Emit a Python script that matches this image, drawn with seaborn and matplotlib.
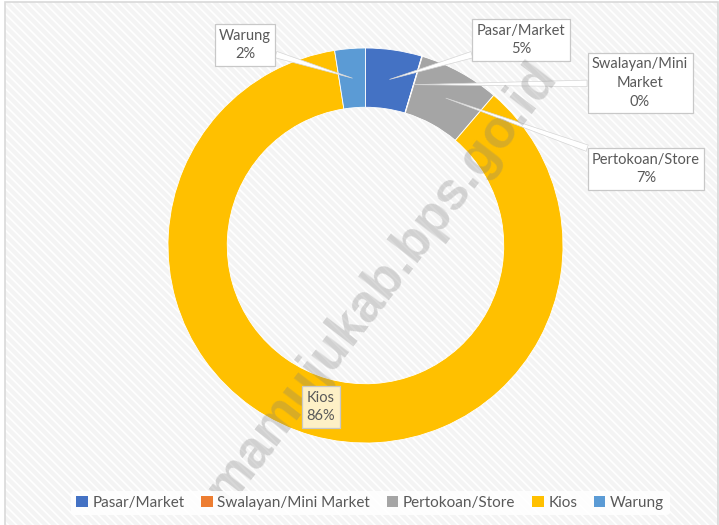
import matplotlib
matplotlib.use('Agg')
import matplotlib.pyplot as plt
from matplotlib.patches import Rectangle, Patch
import seaborn as sns
import numpy as np

# shares of outlets (percent)
categories = ['Pasar/Market', 'Swalayan/Mini Market', 'Pertokoan/Store', 'Kios', 'Warung']
shares = [4.6, 0.05, 6.6, 86.25, 2.5]
pct_labels = ['5%', '0%', '7%', '86%', '2%']
box_texts = ['Pasar/Market', 'Swalayan/Mini\nMarket', 'Pertokoan/Store', 'Kios', 'Warung']
colors = ['#4472C4', '#ED7D31', '#A5A5A5', '#FFC000', '#5B9BD5']

sns.set_style('white')
plt.rcParams['font.family'] = ['Lato', 'DejaVu Sans']
plt.rcParams['hatch.linewidth'] = 1.2

W, H = 719, 525
fig = plt.figure(figsize=(W / 100, H / 100), dpi=100)
fig.patch.set_facecolor('white')

# hatched chart-area background like the excel style
bg = Rectangle((5 / W, 0), (W - 6) / W, 1 - 2 / H, transform=fig.transFigure,
               facecolor='#f4f4f4', edgecolor='white', hatch='\\\\\\\\', lw=0, zorder=-10)
fig.patches.append(bg)
frame = Rectangle((5 / W, -0.01), (W - 6) / W, 1 - 2 / H + 0.01, transform=fig.transFigure,
                  facecolor='none', edgecolor='#d9d9d9', lw=1.2, zorder=-9)
fig.patches.append(frame)

# donut axes positioned in pixels
cx, cy, R = 365.5, 245.5, 197.5
ax = fig.add_axes([(cx - R) / W, 1 - (cy + R) / H, 2 * R / W, 2 * R / H])
ax.patch.set_alpha(0)

ring = 0.30
wedges, _ = ax.pie(shares, colors=colors, startangle=90, counterclock=False, radius=1,
                   wedgeprops=dict(width=ring, edgecolor='white', linewidth=0.6))
ax.set_xlim(-1, 1)
ax.set_ylim(-1, 1)
ax.axis('off')

# watermark
fig.text(0.53, 1 - 283 / H, 'mamujukab.bps.go.id', rotation=52.5, fontsize=38, fontweight='bold',
         color='#7f7f7f', alpha=0.3, ha='center', va='center', family='Liberation Sans', zorder=2)

# label boxes (centre positions in pixels from top-left)
box_pos = [(521, 40), (640, 83), (646, 169), (321, 407), (245, 45)]
txt_col = '#595959'
for i, w in enumerate(wedges):
    mid = np.deg2rad((w.theta1 + w.theta2) / 2)
    rm = 1 - ring / 2
    px, py = rm * np.cos(mid), rm * np.sin(mid)
    bx, by = box_pos[i]
    label = box_texts[i] + '\n' + pct_labels[i]
    face = '#fdf0c6' if categories[i] == 'Kios' else 'white'
    if categories[i] == 'Kios':
        fig.text(bx / W, 1 - by / H, label, ha='center', va='center', fontsize=10.5,
                 color=txt_col, linespacing=1.45, zorder=5,
                 bbox=dict(boxstyle='square,pad=0.3', fc=face, ec='#c8c8c8', lw=0.9))
    else:
        ann = ax.annotate(label, xy=(px, py), xytext=(bx, H - by), textcoords='figure pixels',
                          ha='center', va='center', fontsize=10.5, color=txt_col, linespacing=1.45,
                          bbox=dict(boxstyle='square,pad=0.3', fc=face, ec='#c8c8c8', lw=0.9),
                          arrowprops=dict(arrowstyle='wedge,tail_width=0.45,shrink_factor=0.5',
                                          fc='white', ec='#d6d6d6', lw=0.5, shrinkA=0, shrinkB=0),
                          annotation_clip=False)
        ann.set_zorder(5)

# legend along the bottom
handles = [Patch(facecolor=c, edgecolor='none', label=n) for c, n in zip(colors, categories)]
leg = fig.legend(handles=handles, loc='center', bbox_to_anchor=(0.515, 1 - 503 / H), ncol=5,
                 frameon=True, fontsize=11, handlelength=0.75, handleheight=0.75,
                 handletextpad=0.3, columnspacing=1.1, borderpad=0.35)
leg.get_frame().set_facecolor('white')
leg.get_frame().set_edgecolor('none')
leg.get_frame().set_alpha(0.85)
for t in leg.get_texts():
    t.set_color(txt_col)

fig.savefig('out.png', dpi=100)
